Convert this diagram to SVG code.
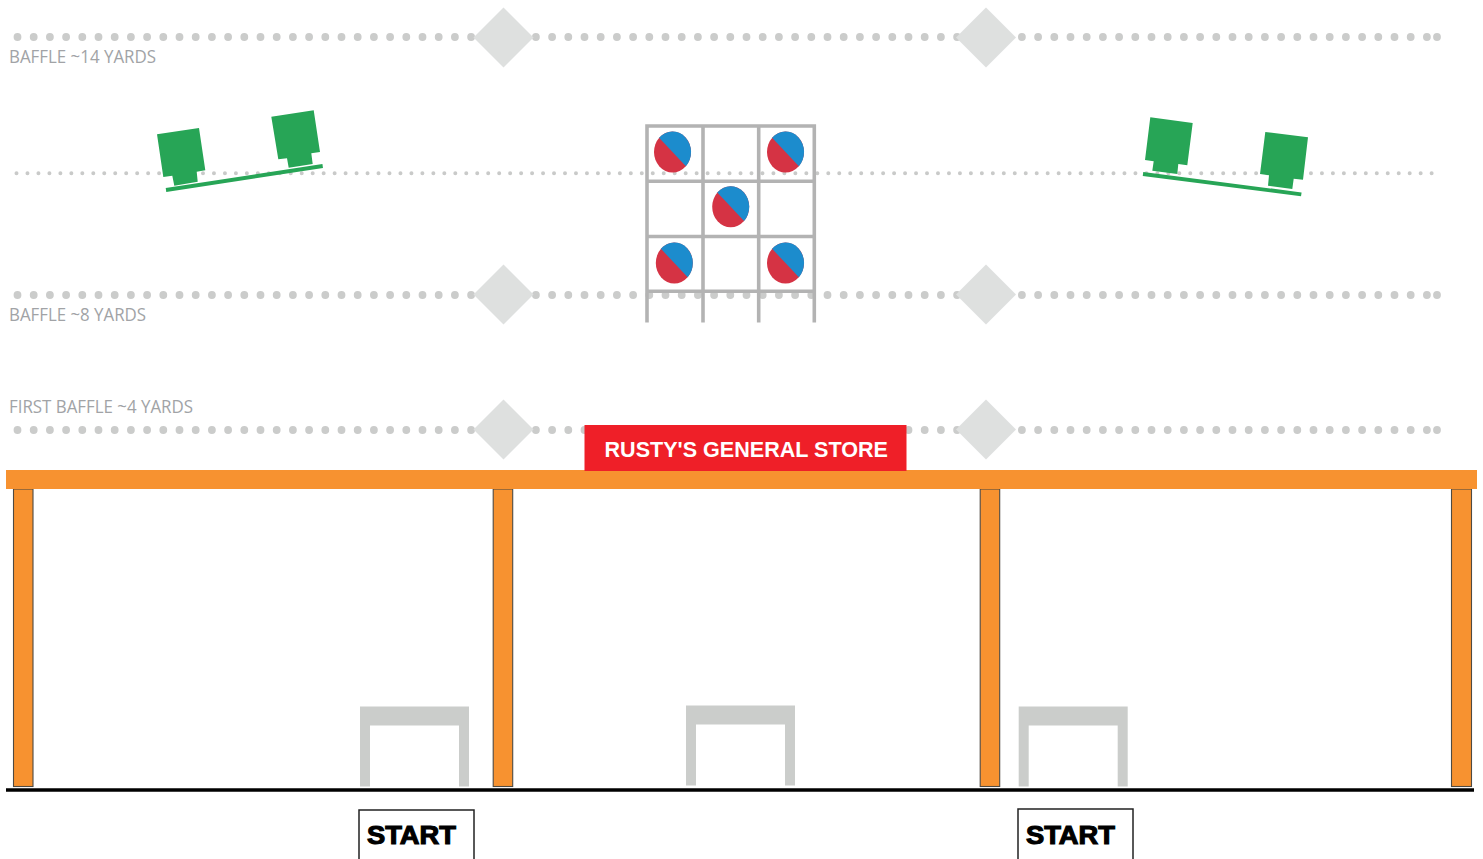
<svg xmlns="http://www.w3.org/2000/svg" xmlns:xlink="http://www.w3.org/1999/xlink" width="1483" height="859" viewBox="0 0 1483 859">
<style>
.dots{fill:none;stroke:#cbcccb;stroke-width:7.8;stroke-linecap:round;stroke-dasharray:0 16.2}
.fine{fill:none;stroke:#c9cac9;stroke-width:4;stroke-linecap:round;stroke-dasharray:0 10.97}
.lbl{font-family:"Open Sans","Noto Sans",sans-serif;font-size:18px;fill:#a1a3a6}
.diamond{fill:#dee0df}
.green{fill:#27a556}
.grid{fill:none;stroke:#b3b3b3;stroke-width:3.6}
.red{fill:#d53344}
.blue{fill:#1c8ccd}
.beam{fill:#f79230}
.post{fill:#f79230;stroke:#4f4a42;stroke-width:1.1}
.table{fill:#cbcdcb}
.startbox{fill:#fff;stroke:#222;stroke-width:1.5}
.starttxt{font-family:"Liberation Sans",Arial,sans-serif;font-weight:700;font-size:25px;fill:#000;stroke:#000;stroke-width:1.1}
</style>
<defs>
<g id="target">
<ellipse class="red" cx="0" cy="0" rx="18.5" ry="20.5"/>
<path class="blue" d="M-13.4-14.2A18.5 20.5 0 0 1 13.4 14.2Z"/>
</g>
<polygon id="dm" class="diamond" points="0,-30 30,0 0,30 -30,0"/>
<path id="tbl" class="table" d="M0 0H109V80H99V19H10V80H0Z"/>
</defs>
<rect width="1483" height="859" fill="#fff"/>
<g id="dotted-lines">
<path class="dots" d="M17.5 37H1439"/><circle cx="1437" cy="37" r="3.9" fill="#cbcccb"/>
<path class="dots" d="M17.5 295H1439"/><circle cx="1437" cy="295" r="3.9" fill="#cbcccb"/>
<path class="dots" d="M17.5 430H1439"/><circle cx="1437" cy="430" r="3.9" fill="#cbcccb"/>
<path class="fine" d="M16.5 173.3H1433"/>
</g>
<g id="baffle-14">
<use xlink:href="#dm" href="#dm" x="503.5" y="37.5"/>
<use xlink:href="#dm" href="#dm" x="986" y="37.5"/>
<text class="lbl" x="9" y="63" textLength="147" lengthAdjust="spacingAndGlyphs">BAFFLE ~14 YARDS</text>
</g>
<g id="baffle-8">
<use xlink:href="#dm" href="#dm" x="503.5" y="294.5"/>
<use xlink:href="#dm" href="#dm" x="986" y="294.5"/>
<text class="lbl" x="9" y="321" textLength="137" lengthAdjust="spacingAndGlyphs">BAFFLE ~8 YARDS</text>
</g>
<g id="baffle-4">
<use xlink:href="#dm" href="#dm" x="503.5" y="429.5"/>
<use xlink:href="#dm" href="#dm" x="986" y="429.5"/>
<text class="lbl" x="9" y="413" textLength="184" lengthAdjust="spacingAndGlyphs">FIRST BAFFLE ~4 YARDS</text>
</g>
<g id="green-left">
<polygon class="green" points="157,134.3 199,128 205.3,170.3 196.7,171.7 197.7,181.7 174.3,185.7 172.3,175.7 163.3,177"/>
<polygon class="green" points="271.3,116.7 313.7,110.3 320,152 311.3,153.3 312.7,164 288.7,167.7 287,158.3 278.3,159.3"/>
<path d="M166 190L322.7 166" stroke="#27a556" stroke-width="3.8" fill="none"/>
</g>
<g id="green-right">
<polygon class="green" points="1150.3,117.3 1192.7,123 1187.3,165.3 1178.3,164 1177.3,174 1152.3,170.7 1153.7,161.3 1145,160"/>
<polygon class="green" points="1265.3,132 1308,137.3 1303,179.7 1293.7,178.7 1292.3,189 1268,185.7 1269,175.3 1260,174"/>
<path d="M1143 174L1301.3 194.3" stroke="#27a556" stroke-width="3.8" fill="none"/>
</g>
<g id="target-rack">
<path class="grid" d="M647 322.5V126H814.3V322.5M703 126V322.5M758.7 126V322.5M647 181.3H814.3M647 236.5H814.3M647 291.3H814.3"/>
<use xlink:href="#target" href="#target" x="672.5" y="152"/>
<use xlink:href="#target" href="#target" x="785.5" y="152"/>
<use xlink:href="#target" href="#target" x="730.7" y="206.8"/>
<use xlink:href="#target" href="#target" x="674.3" y="263"/>
<use xlink:href="#target" href="#target" x="785.5" y="263"/>
</g>
<g id="structure">
<rect class="post" x="13.5" y="489" width="19.5" height="297.5"/>
<rect class="post" x="493.2" y="489" width="19.5" height="297.5"/>
<rect class="post" x="980.2" y="489" width="19.5" height="297.5"/>
<rect class="post" x="1451.5" y="489" width="20" height="297.5"/>
<rect class="beam" x="6" y="470" width="1471" height="19"/>
<path d="M6 790H1474" stroke="#000" stroke-width="3.6" fill="none"/>
</g>
<g id="sign">
<rect x="584.5" y="425" width="322" height="46" fill="#ef1f28"/>
<text x="604.5" y="456.5" font-family="'Liberation Sans',Arial,sans-serif" font-weight="700" font-size="21.5" fill="#fff" textLength="283.5" lengthAdjust="spacingAndGlyphs">RUSTY'S GENERAL STORE</text>
</g>
<g id="table-left"><use xlink:href="#tbl" href="#tbl" x="360" y="706.5"/></g>
<g id="table-middle"><use xlink:href="#tbl" href="#tbl" x="686" y="705.5"/></g>
<g id="table-right"><use xlink:href="#tbl" href="#tbl" x="1018.7" y="706.5"/></g>
<g id="start-left">
<rect class="startbox" x="359" y="810" width="115" height="60"/>
<text class="starttxt" x="367" y="844" textLength="89" lengthAdjust="spacingAndGlyphs">START</text>
</g>
<g id="start-right">
<rect class="startbox" x="1018" y="809" width="115" height="60"/>
<text class="starttxt" x="1026" y="843.5" textLength="89" lengthAdjust="spacingAndGlyphs">START</text>
</g>
</svg>
